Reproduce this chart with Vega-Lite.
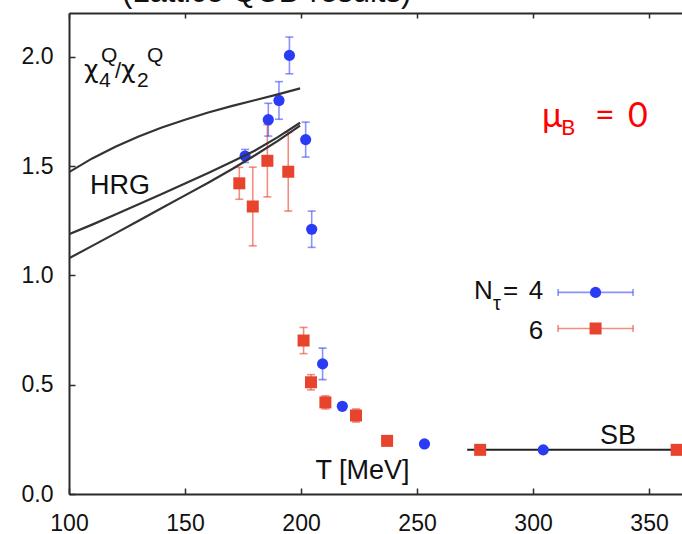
{
 "$schema": "https://vega.github.io/schema/vega-lite/v6.json",
 "width": 613, "height": 481,
 "autosize": {"type": "none"},
 "padding": {"left": 69, "top": 13, "right": 0, "bottom": 40},
 "background": "white",
 "config": {
  "view": {"stroke": null},
  "axis": {"grid": false, "domainColor": "#2a2a2a", "domainWidth": 2, "tickColor": "#2a2a2a", "tickWidth": 1.5, "labelFont": "Liberation Sans", "labelFontSize": 23, "labelColor": "#111", "titleFont": "Liberation Sans", "titleFontWeight": "normal", "titleColor": "#111"}
 },
 "datasets": {
  "nt4": [
   {"T": 175.9, "v": 1.546, "err": 0.03},
   {"T": 185.9, "v": 1.712, "err": 0.075},
   {"T": 190.5, "v": 1.800, "err": 0.086},
   {"T": 195.0, "v": 2.006, "err": 0.084},
   {"T": 202.0, "v": 1.621, "err": 0.08},
   {"T": 204.6, "v": 1.211, "err": 0.083},
   {"T": 209.3, "v": 0.595, "err": 0.072},
   {"T": 217.8, "v": 0.401, "err": 0.0},
   {"T": 253.2, "v": 0.229, "err": 0.0},
   {"T": 304.4, "v": 0.202, "err": 0.0}
  ],
  "nt6": [
   {"T": 173.4, "v": 1.421, "err": 0.073},
   {"T": 179.2, "v": 1.315, "err": 0.18},
   {"T": 185.5, "v": 1.524, "err": 0.165},
   {"T": 194.5, "v": 1.474, "err": 0.18},
   {"T": 201.1, "v": 0.702, "err": 0.06},
   {"T": 204.3, "v": 0.511, "err": 0.035},
   {"T": 210.5, "v": 0.419, "err": 0.03},
   {"T": 223.7, "v": 0.359, "err": 0.03},
   {"T": 237.1, "v": 0.243, "err": 0.0},
   {"T": 277.2, "v": 0.202, "err": 0.0},
   {"T": 361.9, "v": 0.202, "err": 0.0}
  ],
  "hrg": [
   {"curve": "a", "T": 100, "v": 1.472}, {"curve": "a", "T": 110, "v": 1.535}, {"curve": "a", "T": 120, "v": 1.588}, {"curve": "a", "T": 130, "v": 1.635}, {"curve": "a", "T": 140, "v": 1.676}, {"curve": "a", "T": 150, "v": 1.712}, {"curve": "a", "T": 160, "v": 1.745}, {"curve": "a", "T": 170, "v": 1.774}, {"curve": "a", "T": 180, "v": 1.801}, {"curve": "a", "T": 190, "v": 1.828}, {"curve": "a", "T": 199.6, "v": 1.855},
   {"curve": "b", "T": 100, "v": 1.188}, {"curve": "b", "T": 110, "v": 1.232}, {"curve": "b", "T": 120, "v": 1.278}, {"curve": "b", "T": 130, "v": 1.325}, {"curve": "b", "T": 140, "v": 1.372}, {"curve": "b", "T": 150, "v": 1.42}, {"curve": "b", "T": 160, "v": 1.468}, {"curve": "b", "T": 170, "v": 1.518}, {"curve": "b", "T": 180, "v": 1.57}, {"curve": "b", "T": 190, "v": 1.632}, {"curve": "b", "T": 199.6, "v": 1.698},
   {"curve": "c", "T": 100, "v": 1.078}, {"curve": "c", "T": 110, "v": 1.135}, {"curve": "c", "T": 120, "v": 1.192}, {"curve": "c", "T": 130, "v": 1.25}, {"curve": "c", "T": 140, "v": 1.308}, {"curve": "c", "T": 150, "v": 1.366}, {"curve": "c", "T": 160, "v": 1.424}, {"curve": "c", "T": 170, "v": 1.484}, {"curve": "c", "T": 180, "v": 1.548}, {"curve": "c", "T": 190, "v": 1.615}, {"curve": "c", "T": 199.6, "v": 1.685}
  ],
  "sb": [{"T": 271.6, "v": 0.202}, {"T": 364.2, "v": 0.202}],
  "legend": [{"s": "4", "T": 326.95, "v": 0.922, "half": 16.15}, {"s": "6", "T": 326.95, "v": 0.757, "half": 16.15}],
  "anno": [
   {"key": "title", "T": 122.8, "v": 2.25},
   {"key": "ylab", "T": 106.5, "v": 1.904},
   {"key": "hrg", "T": 109.05, "v": 1.372},
   {"key": "sb", "T": 328.9, "v": 0.229},
   {"key": "mu", "T": 303.9, "v": 1.679},
   {"key": "leg4", "T": 310.8, "v": 0.922},
   {"key": "leg6", "T": 310.8, "v": 0.757}
  ]
 },
 "resolve": {"axis": {"x": "independent", "y": "independent"}},
 "layer": [
  {"data": {"name": "sb"}, "mark": {"type": "line", "color": "#222", "strokeWidth": 2},
   "encoding": {
    "x": {"field": "T", "type": "quantitative", "scale": {"domain": [100, 364.2], "nice": false, "zero": false},
      "axis": {"orient": "bottom", "values": [100, 150, 200, 250, 300, 350], "tickSize": -6, "labelPadding": 24, "labelFlush": false, "title": "T [MeV]", "titleFontSize": 27, "titleX": 293, "titleY": -16, "titleBaseline": "alphabetic", "titleAlign": "center"}},
    "y": {"field": "v", "type": "quantitative", "scale": {"domain": [0, 2.2], "nice": false, "zero": false},
      "axis": {"orient": "left", "values": [0, 0.5, 1, 1.5, 2], "format": ".1f", "tickSize": -6, "labelPadding": 22, "labelBaseline": "middle", "title": null}}
   }},
  {"data": {"name": "nt6"}, "mark": {"type": "errorbar", "ticks": {"size": 8}, "color": "#e8432d", "opacity": 0.6, "thickness": 1.6},
   "encoding": {
    "x": {"field": "T", "type": "quantitative", "scale": {"domain": [100, 364.2], "nice": false, "zero": false}, "axis": null},
    "y": {"field": "v", "type": "quantitative", "scale": {"domain": [0, 2.2], "nice": false, "zero": false}, "axis": null},
    "yError": {"field": "err"}
   }},
  {"data": {"name": "nt4"}, "mark": {"type": "errorbar", "ticks": {"size": 8}, "color": "#2a3bf5", "opacity": 0.55, "thickness": 1.6},
   "encoding": {
    "x": {"field": "T", "type": "quantitative", "scale": {"domain": [100, 364.2], "nice": false, "zero": false}, "axis": null},
    "y": {"field": "v", "type": "quantitative", "scale": {"domain": [0, 2.2], "nice": false, "zero": false}, "axis": null},
    "yError": {"field": "err"}
   }},
  {"data": {"name": "nt6"}, "mark": {"type": "point", "shape": "square", "filled": true, "size": 144, "color": "#e8432d", "opacity": 1},
   "encoding": {
    "x": {"field": "T", "type": "quantitative", "scale": {"domain": [100, 364.2], "nice": false, "zero": false}, "axis": null},
    "y": {"field": "v", "type": "quantitative", "scale": {"domain": [0, 2.2], "nice": false, "zero": false}, "axis": null}
   }},
  {"data": {"name": "nt4"}, "mark": {"type": "point", "shape": "circle", "filled": true, "size": 125, "color": "#2a3bf5", "opacity": 1},
   "encoding": {
    "x": {"field": "T", "type": "quantitative", "scale": {"domain": [100, 364.2], "nice": false, "zero": false}, "axis": null},
    "y": {"field": "v", "type": "quantitative", "scale": {"domain": [0, 2.2], "nice": false, "zero": false}, "axis": null}
   }},
  {"data": {"name": "hrg"}, "mark": {"type": "line", "color": "#333", "strokeWidth": 2.2, "clip": true},
   "encoding": {
    "x": {"field": "T", "type": "quantitative", "scale": {"domain": [100, 364.2], "nice": false, "zero": false},
      "axis": {"orient": "top", "values": [100, 150, 200, 250, 300, 350], "labels": false, "tickSize": -5, "title": null}},
    "y": {"field": "v", "type": "quantitative", "scale": {"domain": [0, 2.2], "nice": false, "zero": false}, "axis": null},
    "detail": {"field": "curve"}
   }},
  {"data": {"name": "legend"}, "transform": [{"filter": "datum.s === '4'"}],
   "mark": {"type": "errorbar", "ticks": {"size": 7}, "color": "#2a3bf5", "opacity": 0.55, "thickness": 1.6},
   "encoding": {
    "x": {"field": "T", "type": "quantitative", "scale": {"domain": [100, 364.2], "nice": false, "zero": false}, "axis": null},
    "xError": {"field": "half"},
    "y": {"field": "v", "type": "quantitative", "scale": {"domain": [0, 2.2], "nice": false, "zero": false}, "axis": null}
   }},
  {"data": {"name": "legend"}, "transform": [{"filter": "datum.s === '6'"}],
   "mark": {"type": "errorbar", "ticks": {"size": 7}, "color": "#e8432d", "opacity": 0.6, "thickness": 1.6},
   "encoding": {
    "x": {"field": "T", "type": "quantitative", "scale": {"domain": [100, 364.2], "nice": false, "zero": false}, "axis": null},
    "xError": {"field": "half"},
    "y": {"field": "v", "type": "quantitative", "scale": {"domain": [0, 2.2], "nice": false, "zero": false}, "axis": null}
   }},
  {"data": {"name": "legend"}, "transform": [{"filter": "datum.s === '4'"}],
   "mark": {"type": "point", "shape": "circle", "filled": true, "size": 125, "color": "#2a3bf5", "opacity": 1},
   "encoding": {
    "x": {"field": "T", "type": "quantitative", "scale": {"domain": [100, 364.2], "nice": false, "zero": false}, "axis": null},
    "y": {"field": "v", "type": "quantitative", "scale": {"domain": [0, 2.2], "nice": false, "zero": false}, "axis": null}
   }},
  {"data": {"name": "legend"}, "transform": [{"filter": "datum.s === '6'"}],
   "mark": {"type": "point", "shape": "square", "filled": true, "size": 144, "color": "#e8432d", "opacity": 1},
   "encoding": {
    "x": {"field": "T", "type": "quantitative", "scale": {"domain": [100, 364.2], "nice": false, "zero": false}, "axis": null},
    "y": {"field": "v", "type": "quantitative", "scale": {"domain": [0, 2.2], "nice": false, "zero": false}, "axis": null}
   }},
  {"data": {"name": "anno"},
   "layer": [
    {"transform": [{"filter": "datum.key === 'title'"}], "mark": {"type": "text", "text": "(Lattice QCD results)", "align": "left", "baseline": "alphabetic", "font": "Liberation Sans", "fontSize": 31, "color": "#111", "clip": false}},
    {"transform": [{"filter": "datum.key === 'ylab'"}], "mark": {"type": "text", "text": "χ", "align": "left", "baseline": "alphabetic", "font": "DejaVu Sans", "fontSize": 25, "color": "#111"}},
    {"transform": [{"filter": "datum.key === 'ylab'"}], "mark": {"type": "text", "text": "4", "dx": 15, "dy": 9, "align": "left", "baseline": "alphabetic", "font": "Liberation Sans", "fontSize": 21, "color": "#111"}},
    {"transform": [{"filter": "datum.key === 'ylab'"}], "mark": {"type": "text", "text": "Q", "dx": 17, "dy": -16, "align": "left", "baseline": "alphabetic", "font": "Liberation Sans", "fontSize": 21, "color": "#111"}},
    {"transform": [{"filter": "datum.key === 'ylab'"}], "mark": {"type": "text", "text": "/", "dx": 31, "dy": 0, "align": "left", "baseline": "alphabetic", "font": "Liberation Sans", "fontSize": 22, "color": "#111"}},
    {"transform": [{"filter": "datum.key === 'ylab'"}], "mark": {"type": "text", "text": "χ", "dx": 37, "dy": 0, "align": "left", "baseline": "alphabetic", "font": "DejaVu Sans", "fontSize": 25, "color": "#111"}},
    {"transform": [{"filter": "datum.key === 'ylab'"}], "mark": {"type": "text", "text": "2", "dx": 53, "dy": 9, "align": "left", "baseline": "alphabetic", "font": "Liberation Sans", "fontSize": 21, "color": "#111"}},
    {"transform": [{"filter": "datum.key === 'ylab'"}], "mark": {"type": "text", "text": "Q", "dx": 63, "dy": -16, "align": "left", "baseline": "alphabetic", "font": "Liberation Sans", "fontSize": 21, "color": "#111"}},
    {"transform": [{"filter": "datum.key === 'hrg'"}], "mark": {"type": "text", "text": "HRG", "align": "left", "baseline": "alphabetic", "font": "Liberation Sans", "fontSize": 27, "color": "#111"}},
    {"transform": [{"filter": "datum.key === 'sb'"}], "mark": {"type": "text", "text": "SB", "align": "left", "baseline": "alphabetic", "font": "Liberation Sans", "fontSize": 27, "color": "#111"}},
    {"transform": [{"filter": "datum.key === 'mu'"}], "mark": {"type": "text", "text": "μ", "align": "left", "baseline": "alphabetic", "font": "Lato", "fontSize": 34, "color": "#ff0000"}},
    {"transform": [{"filter": "datum.key === 'mu'"}], "mark": {"type": "text", "text": "B", "dx": 19, "dy": 8, "align": "left", "baseline": "alphabetic", "font": "Lato", "fontSize": 22, "color": "#ff0000"}},
    {"transform": [{"filter": "datum.key === 'mu'"}], "mark": {"type": "text", "text": "=", "dx": 53, "dy": 0, "align": "left", "baseline": "alphabetic", "font": "Lato", "fontSize": 34, "color": "#ff0000"}},
    {"transform": [{"filter": "datum.key === 'mu'"}], "mark": {"type": "text", "text": "0", "dx": 86, "dy": 0, "align": "left", "baseline": "alphabetic", "font": "Lato", "fontSize": 34, "color": "#ff0000"}},
    {"transform": [{"filter": "datum.key === 'leg4'"}], "mark": {"type": "text", "text": "N", "dx": -84, "dy": 7, "align": "left", "baseline": "alphabetic", "font": "Liberation Sans", "fontSize": 26, "color": "#111"}},
    {"transform": [{"filter": "datum.key === 'leg4'"}], "mark": {"type": "text", "text": "τ", "dx": -65, "dy": 18, "align": "left", "baseline": "alphabetic", "font": "Liberation Sans", "fontSize": 20, "color": "#111"}},
    {"transform": [{"filter": "datum.key === 'leg4'"}], "mark": {"type": "text", "text": "=", "dx": -55, "dy": 7, "align": "left", "baseline": "alphabetic", "font": "Liberation Sans", "fontSize": 26, "color": "#111"}},
    {"transform": [{"filter": "datum.key === 'leg4'"}], "mark": {"type": "text", "text": "4", "dx": -15, "dy": 7, "align": "right", "baseline": "alphabetic", "font": "Liberation Sans", "fontSize": 26, "color": "#111"}},
    {"transform": [{"filter": "datum.key === 'leg6'"}], "mark": {"type": "text", "text": "6", "dx": -15, "dy": 11, "align": "right", "baseline": "alphabetic", "font": "Liberation Sans", "fontSize": 26, "color": "#111"}}
   ],
   "encoding": {
    "x": {"field": "T", "type": "quantitative", "scale": {"domain": [100, 364.2], "nice": false, "zero": false}, "axis": null},
    "y": {"field": "v", "type": "quantitative", "scale": {"domain": [0, 2.2], "nice": false, "zero": false}, "axis": null}
   }}
 ]
}
